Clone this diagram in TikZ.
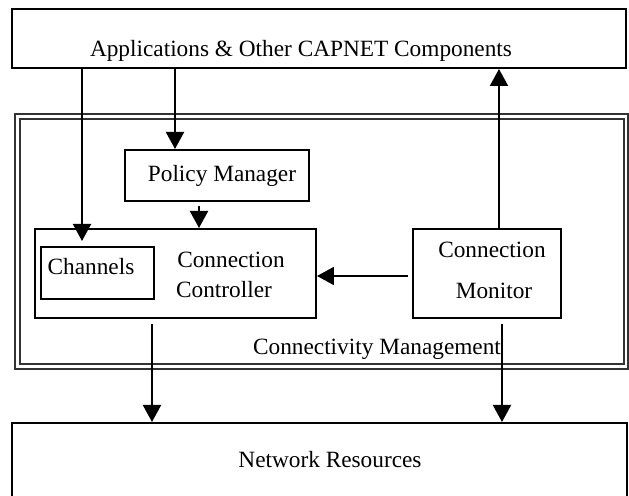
\documentclass[tikz,border=0pt]{standalone}
\usepackage{fontspec}
\setmainfont{Liberation Serif}
\usetikzlibrary{arrows.meta,fit}
\begin{document}
\begin{tikzpicture}[x=0.5pt,y=-0.5pt,
  box/.style={draw=black,line width=1pt,inner sep=0pt,fill=none},
  frame/.style={draw=black!80,line width=0.6pt,inner sep=0pt},
  lbl/.style={anchor=base,inner sep=0pt,font=\fontsize{11.65}{14}\selectfont},
  arr/.style={line width=1pt,-{Triangle[length=8.5pt,width=9pt]}}]
\useasboundingbox (0,0) rectangle (629,496);
% boxes
\node[box,fit={(12,9) (626,68)}] (top) {};
\node[frame,fit={(15,114) (628,369)}] (outer) {};
\node[frame,fit={(20,119) (624,364)}] (inner) {};
\node[box,fit={(125,150) (309,201)}] (pm) {};
\node[box,fit={(35,229) (316,318)}] (cc) {};
\node[box,fit={(41,247) (154,299)}] (ch) {};
\node[box,fit={(413,229) (561,318)}] (cm) {};
\node[box,fit={(12,423) (627,510)}] (net) {};
% texts
\node[lbl] (ttop) at (301,57) {Applications \& Other CAPNET Components};
\node[lbl] (tpm) at (222,182) {Policy Manager};
\node[lbl] (tch) at (91,275) {Channels};
\node[lbl] (tcc1) at (231,268) {Connection};
\node[lbl] (tcc2) at (224,298) {Controller};
\node[lbl] (tcm1) at (492,258) {Connection};
\node[lbl] (tcm2) at (494,299) {Monitor};
\node[lbl] (tcon) at (377,355) {Connectivity Management};
\node[lbl] (tnet) at (330,468) {Network Resources};
% helper coordinates
\coordinate (x82) at (82,0);
\coordinate (x175) at (175,0);
\coordinate (x199) at (199,0);
\coordinate (x499) at (499,0);
\coordinate (x152) at (152,0);
\coordinate (x502) at (502,0);
\coordinate (y276) at (0,276);
% connectors
\draw[arr,shorten >=2.5pt] (top.south -| x82) -- (ch.north -| x82);
\draw[arr] (top.south -| x175) -- (pm.north -| x175);
\draw[arr,shorten <=2pt] (pm.south -| x199) -- (cc.north -| x199);
\draw[arr,shorten <=2pt] (cm.west |- y276) -- (cc.east |- y276);
\draw[arr] (cm.north -| x499) -- (top.south -| x499);
\draw[arr,shorten <=2.5pt] (cc.south -| x152) -- (net.north -| x152);
\draw[arr,shorten <=2.5pt] (cm.south -| x502) -- (net.north -| x502);
\end{tikzpicture}
\end{document}
